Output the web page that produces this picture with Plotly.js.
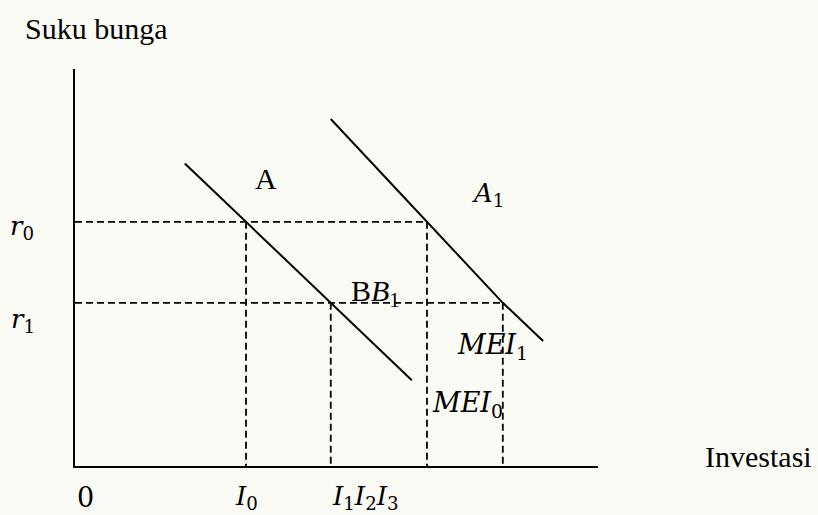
<!DOCTYPE html>
<html>
<head>
<meta charset="utf-8">
<script src="https://cdn.plot.ly/plotly-3.0.1.min.js"></script>
<style>
  html, body { margin: 0; padding: 0; background: #fbfbf6; }
  #chart { width: 818px; height: 515px; }
</style>
</head>
<body>
<div id="chart"></div>
<script>
// Investment (x) and interest rate (y) levels, in axis units (0-100)
const investLevels = [32.7, 48.9, 67.3, 81.8];   // I0, I1, I2, I3
const rateLevels = [61.5, 41.1];                  // r0, r1

// Marginal efficiency of investment schedules
const mei0X = [21.0, 32.7, 48.9, 64.4];
const mei0Y = [76.2, 61.5, 41.1, 21.6];
const mei1X = [48.9, 67.3, 81.8, 89.5];
const mei1Y = [87.4, 61.5, 41.1, 31.5];

// Which rate each investment level sits on
const guideRateIndex = [0, 1, 0, 1];

// Text labels
const rateLabels = ['<i>r</i><sub>0</sub>', '<i>r</i><sub>1</sub>'];
const investLabels = ['0', '<i>I</i><sub>0</sub>', '<i>I</i><sub>1</sub><i>I</i><sub>2</sub><i>I</i><sub>3</sub>'];
const yTitle = 'Suku bunga';
const xTitle = 'Investasi';

const black = '#000000';
const serif = 'Liberation Serif, Times New Roman, serif';
const math = 'DejaVu Serif, serif';

// Both axes span 0-100 over their full domain, so axis units map to paper
// fractions by /100; paper refs let labels sit outside the plotting area.
const AX = 100;

// Dashed guides: horizontal from the y axis to the farthest point on each rate,
// vertical from each point down to the x axis
const gx = [], gy = [];
rateLevels.forEach((r, ri) => {
  let far = 0;
  investLevels.forEach((v, i) => { if (guideRateIndex[i] === ri) far = Math.max(far, v); });
  gx.push(0, far, null); gy.push(r, r, null);
});
investLevels.forEach((v, i) => {
  const r = rateLevels[guideRateIndex[i]];
  gx.push(v, v, null); gy.push(r, 0, null);
});

const traces = [
  { x: gx, y: gy, mode: 'lines', line: { color: black, width: 1.8, dash: '7px,4px' }, hoverinfo: 'skip' },
  { x: mei0X, y: mei0Y, mode: 'lines', line: { color: black, width: 2 }, hoverinfo: 'skip' },
  { x: mei1X, y: mei1Y, mode: 'lines', line: { color: black, width: 2 }, hoverinfo: 'skip' }
];

function label(x, y, text, font, size) {
  return { x: x / AX, y: y / AX, xref: 'paper', yref: 'paper', text: text, showarrow: false,
    xanchor: 'center', yanchor: 'middle', font: { family: font, size: size, color: black } };
}

const annotations = [
  label(4.2, 110.3, yTitle, serif, 30),
  label(130.6, 2.5, xTitle, serif, 30),
  label(-10.1, rateLevels[0] - 1.5, rateLabels[0], math, 26),
  label(-9.9, rateLevels[1] - 4.5, rateLabels[1], math, 26),
  label(2.1, -8.0, investLabels[0], math, 27),
  label(investLevels[0], -8.0, investLabels[1], math, 26),
  label(55.6, -8.0, investLabels[2], math, 26),
  label(36.5, 72.5, 'A', serif, 30),
  label(79.0, 68.3, '<i>A</i><sub>1</sub>', math, 26),
  label(57.4, 43.6, 'B<i>B</i><sub>1</sub>', serif, 30),
  label(79.9, 30.0, '<i>MEI</i><sub>1</sub>', math, 27),
  label(75.0, 15.6, '<i>MEI</i><sub>0</sub>', math, 27)
];

const axisStyle = {
  range: [0, AX], showgrid: false, zeroline: false, showticklabels: false, ticks: '',
  showline: true, linecolor: black, linewidth: 2, fixedrange: true
};

const layout = {
  width: 818, height: 515,
  margin: { l: 75, r: 220, t: 69, b: 49 },
  paper_bgcolor: '#fbfbf6', plot_bgcolor: '#fbfbf6',
  showlegend: false,
  xaxis: Object.assign({}, axisStyle),
  yaxis: Object.assign({}, axisStyle),
  annotations: annotations
};

Plotly.newPlot('chart', traces, layout, { displayModeBar: false, staticPlot: true });
</script>
</body>
</html>
